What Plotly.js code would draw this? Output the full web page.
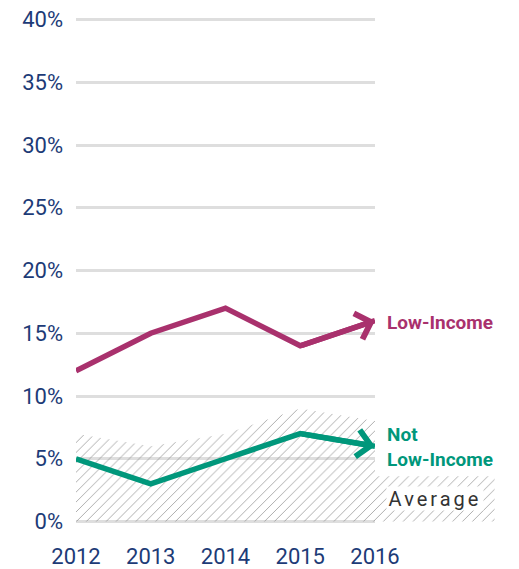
<!DOCTYPE html>
<html>
<head>
<meta charset="utf-8">
<script src="https://cdn.plot.ly/plotly-3.0.1.min.js"></script>
<style>
html,body{margin:0;padding:0;background:#fff;}
#chart{width:519px;height:569px;}
</style>
</head>
<body>
<div id="chart"></div>
<script>
// ---- data ----
var years = [2012, 2013, 2014, 2015, 2016];
var lowIncome = [12, 15, 17, 14, 16];
var notLowIncome = [5, 3, 5, 7, 6];
var averageBand = [7, 6, 7, 9, 8];
var yTickVals = [0, 5, 10, 15, 20, 25, 30, 35, 40];
var yTickText = ['0%', '5%', '10%', '15%', '20%', '25%', '30%', '35%', '40%'];
var avgKeyX = [2016, 2017.6];
var avgKeyY = [3.6, 3.6];

// ---- styles ----
var MAGENTA = '#a9316d';
var GREEN = '#00977b';
var NAVY = '#1d3b77';
var GRID = '#dedede';
var HATCH = '#8c8c8c';
var FONT = 'Roboto, "Open Sans", sans-serif';

var W = 519, H = 569;
var mL = 76, mR = 19, mT = 17, mB = 45;
var plotW = W - mL - mR;
var mainFrac = 299 / plotW;
var x2max = 2012 + 4 / mainFrac;
var yRange = [-0.2, 40.2];

var hatch = {shape: '/', fgcolor: HATCH, size: 7, solidity: 0.1};

var traces = [
  {
    x: years, y: averageBand, xaxis: 'x', yaxis: 'y',
    type: 'scatter', mode: 'lines', fill: 'tozeroy',
    line: {width: 0, color: HATCH}, fillcolor: 'rgba(0,0,0,0)',
    fillpattern: hatch, hoverinfo: 'skip', showlegend: false
  },
  {
    x: avgKeyX, y: avgKeyY, xaxis: 'x2', yaxis: 'y2',
    type: 'scatter', mode: 'lines', fill: 'tozeroy',
    line: {width: 0, color: HATCH}, fillcolor: 'rgba(0,0,0,0)',
    fillpattern: hatch, hoverinfo: 'skip', showlegend: false
  },
  {
    x: years, y: lowIncome, xaxis: 'x', yaxis: 'y',
    type: 'scatter', mode: 'lines',
    line: {width: 5.5, color: MAGENTA}, showlegend: false
  },
  {
    x: years, y: notLowIncome, xaxis: 'x', yaxis: 'y',
    type: 'scatter', mode: 'lines',
    line: {width: 5.5, color: GREEN}, showlegend: false
  }
];

var n = years.length - 1;
var annotations = [
  {
    x: years[n], y: lowIncome[n], ax: years[n-1], ay: lowIncome[n-1],
    xref: 'x', yref: 'y', axref: 'x', ayref: 'y',
    text: '', showarrow: true, arrowhead: 4, arrowsize: 0.95, arrowwidth: 5.5,
    arrowcolor: MAGENTA
  },
  {
    x: years[n], y: notLowIncome[n], ax: years[n-1], ay: notLowIncome[n-1],
    xref: 'x', yref: 'y', axref: 'x', ayref: 'y',
    text: '', showarrow: true, arrowhead: 4, arrowsize: 0.95, arrowwidth: 5.5,
    arrowcolor: GREEN
  },
  {
    x: years[n], y: lowIncome[n] - 0.15, xref: 'x', yref: 'y',
    text: 'Low-Income', showarrow: false, xanchor: 'left', xshift: 10,
    align: 'left',
    font: {family: FONT, size: 19, color: MAGENTA, weight: 'bold'}
  },
  {
    x: years[n], y: notLowIncome[n] - 0.05, xref: 'x', yref: 'y',
    text: 'Not<br>Low-Income', showarrow: false, xanchor: 'left', xshift: 10,
    align: 'left',
    font: {family: FONT, size: 19, color: GREEN, weight: 'bold'}
  },
  {
    x: (avgKeyX[0] + avgKeyX[1]) / 2, y: avgKeyY[0] / 2 + 0.05, xref: 'x2', yref: 'y2',
    text: 'Average', showarrow: false, xanchor: 'center', yanchor: 'middle',
    bgcolor: '#ffffff', width: 96, height: 23, borderpad: 0,
    font: {family: FONT, size: 20, color: '#333333'}
  }
];

var layout = {
  width: W, height: H,
  margin: {l: mL, r: mR, t: mT, b: mB, pad: 0},
  paper_bgcolor: '#ffffff', plot_bgcolor: 'rgba(0,0,0,0)',
  showlegend: false,
  font: {family: FONT, color: NAVY},
  xaxis: {
    domain: [0, mainFrac], range: [2012, 2016],
    tickvals: years, ticktext: years.map(String),
    showgrid: false, zeroline: false, showline: false, ticks: '',
    ticklabelstandoff: 17,
    tickfont: {family: FONT, size: 22, color: NAVY}
  },
  yaxis: {
    domain: [0, 1], range: yRange,
    tickvals: yTickVals, ticktext: yTickText,
    showgrid: true, gridcolor: GRID, gridwidth: 3,
    zeroline: false, showline: false, ticks: '',
    ticklabelstandoff: 12,
    tickfont: {family: FONT, size: 22, color: NAVY}
  },
  xaxis2: {
    domain: [0, 1], range: [2012, x2max], anchor: 'y2',
    visible: false, showgrid: false, zeroline: false
  },
  yaxis2: {
    domain: [0, 1], range: yRange, anchor: 'x2',
    visible: false, showgrid: false, zeroline: false
  },
  annotations: annotations
};

Plotly.newPlot('chart', traces, layout, {staticPlot: true, displayModeBar: false}).then(function () {
  var texts = document.querySelectorAll('.annotation-text');
  texts.forEach(function (t) {
    if (t.textContent === 'Average') {
      t.style.letterSpacing = '3px';
    }
  });
});
</script>
</body>
</html>
